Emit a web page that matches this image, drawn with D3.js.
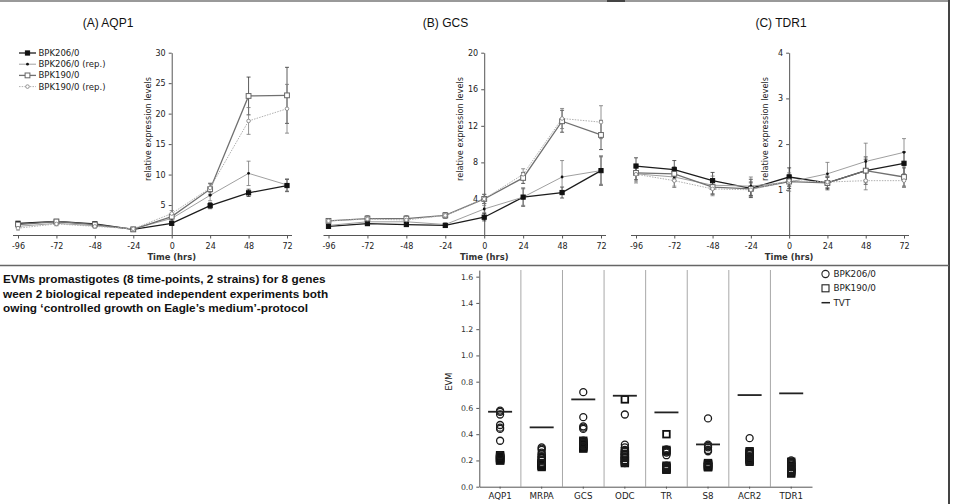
<!DOCTYPE html>
<html>
<head>
<meta charset="utf-8">
<script src="https://cdn.jsdelivr.net/npm/d3@7"></script>
<style>
body { margin: 0; background: #fff; }
svg { display: block; }
</style>
</head>
<body>
<svg width="953" height="504"></svg>
<script>
// time points in hours
const timePoints = [-96, -72, -48, -24, 0, 24, 48, 72];
const seriesNames = ["BPK206/0", "BPK206/0 (rep.)", "BPK190/0", "BPK190/0 (rep.)"];

// (A) AQP1 - relative expression levels
const aqp1_206    = [2.0, 2.3, 1.9, 1.0, 2.0, 4.9, 7.0, 8.2];
const aqp1_206rep = [1.5, 2.0, 1.6, 1.1, 2.8, 6.6, 10.2, 8.3];
const aqp1_190    = [1.8, 2.3, 1.8, 1.0, 3.1, 7.6, 22.9, 23.0];
const aqp1_190rep = [1.2, 1.9, 1.5, 1.1, 3.6, 7.8, 18.8, 20.8];
const aqp1_206_err    = [0.3, 0.3, 0.3, 0.2, 0.3, 0.5, 0.6, 1.0];
const aqp1_206rep_err = [0.3, 0.3, 0.3, 0.2, 0.4, 0.9, 2.0, 1.0];
const aqp1_190_err    = [0.3, 0.3, 0.3, 0.2, 0.4, 0.9, 3.1, 4.6];
const aqp1_190rep_err = [0.3, 0.3, 0.3, 0.2, 0.5, 0.8, 2.2, 4.0];

// (B) GCS
const gcs_206    = [1.0, 1.3, 1.2, 1.1, 2.0, 4.2, 4.7, 7.1];
const gcs_206rep = [1.1, 1.5, 1.5, 1.2, 2.9, 4.2, 6.4, 7.1];
const gcs_190    = [1.6, 1.85, 1.85, 2.2, 4.0, 6.3, 12.5, 11.0];
const gcs_190rep = [1.6, 1.8, 1.7, 2.2, 4.0, 6.7, 12.8, 12.4];
const gcs_206_err    = [0.15, 0.2, 0.2, 0.15, 0.4, 1.0, 0.6, 1.6];
const gcs_206rep_err = [0.2, 0.2, 0.2, 0.2, 0.4, 0.9, 1.8, 1.5];
const gcs_190_err    = [0.2, 0.3, 0.3, 0.3, 0.5, 0.6, 1.2, 1.6];
const gcs_190rep_err = [0.2, 0.3, 0.3, 0.3, 0.5, 0.6, 1.1, 1.8];

// (C) TDR1
const tdr1_206    = [1.52, 1.44, 1.20, 1.03, 1.28, 1.15, 1.42, 1.58];
const tdr1_206rep = [1.35, 1.28, 1.10, 1.08, 1.17, 1.35, 1.62, 1.82];
const tdr1_190    = [1.37, 1.35, 1.06, 1.02, 1.18, 1.15, 1.42, 1.28];
const tdr1_190rep = [1.34, 1.20, 1.02, 1.00, 1.20, 1.17, 1.20, 1.20];
const tdr1_206_err    = [0.18, 0.2, 0.18, 0.2, 0.2, 0.15, 0.3, 0.25];
const tdr1_206rep_err = [0.2, 0.2, 0.2, 0.2, 0.2, 0.25, 0.4, 0.3];
const tdr1_190_err    = [0.15, 0.15, 0.15, 0.15, 0.15, 0.12, 0.25, 0.2];
const tdr1_190rep_err = [0.15, 0.15, 0.15, 0.15, 0.12, 0.12, 0.2, 0.15];

const aqp1Ticks = [5, 10, 15, 20, 25, 30];
const gcsTicks = [4, 8, 12, 16, 20];
const tdr1Ticks = [1, 2, 3, 4];

// EVM panel
const genes = ["AQP1", "MRPA", "GCS", "ODC", "TR", "S8", "ACR2", "TDR1"];
const evm206 = [
  [0.58, 0.57, 0.55, 0.47, 0.45, 0.44, 0.35, 0.24],
  [0.30, 0.29, 0.28, 0.26, 0.25, 0.23, 0.20, 0.18],
  [0.72, 0.53, 0.46, 0.45, 0.44, 0.35, 0.33, 0.31],
  [0.55, 0.32, 0.30, 0.28, 0.25, 0.22, 0.19, 0.18],
  [0.285, 0.27, 0.26, 0.24, 0.16, 0.15, 0.14, 0.13],
  [0.52, 0.32, 0.31, 0.30, 0.28, 0.27, 0.18, 0.16],
  [0.37, 0.27, 0.25, 0.23, 0.21, 0.20, 0.19, 0.19],
  [0.20, 0.19, 0.18, 0.17, 0.15, 0.13, 0.12, 0.11]
];
const evm190 = [
  [0.24, 0.23, 0.22, 0.22, 0.21, 0.21, 0.20, 0.20],
  [0.22, 0.20, 0.18, 0.17, 0.17, 0.16, 0.16, 0.15],
  [0.35, 0.34, 0.33, 0.32, 0.31, 0.30, 0.30, 0.29],
  [0.665, 0.27, 0.25, 0.24, 0.22, 0.20, 0.19, 0.18],
  [0.40, 0.28, 0.27, 0.16, 0.15, 0.14, 0.13, 0.13],
  [0.18, 0.17, 0.17, 0.16, 0.16, 0.15, 0.15, 0.15],
  [0.27, 0.26, 0.25, 0.23, 0.22, 0.21, 0.20, 0.19],
  [0.19, 0.18, 0.16, 0.15, 0.13, 0.12, 0.11, 0.10]
];
const tvt = [0.571, 0.452, 0.665, 0.693, 0.566, 0.322, 0.698, 0.711];
const evmTicks = [0, 0.2, 0.4, 0.6, 0.8, 1.0, 1.2, 1.4, 1.6];

const captionLines = [
  "EVMs promastigotes (8 time-points, 2 strains) for 8 genes",
  "ween 2 biological repeated independent experiments both",
  "owing \u2018controlled growth on Eagle\u2019s medium\u2019-protocol"
];

const svg = d3.select("svg");
const tickFont = "'DejaVu Sans', Verdana, sans-serif";
const plainNum = function(d) { return String(d); };

// frame lines
svg.append("line").attr("x1", 0).attr("x2", 950).attr("y1", 1).attr("y2", 1)
  .attr("stroke", "#999").attr("stroke-width", 2);
svg.append("line").attr("x1", 607).attr("x2", 625).attr("y1", 1).attr("y2", 1)
  .attr("stroke", "#444").attr("stroke-width", 2);
svg.append("line").attr("x1", 949).attr("x2", 949).attr("y1", 0).attr("y2", 504)
  .attr("stroke", "#444").attr("stroke-width", 2);
svg.append("line").attr("x1", 0).attr("x2", 949).attr("y1", 265.5).attr("y2", 265.5)
  .attr("stroke", "#666").attr("stroke-width", 1.5);

// series styles
const styles = [
  { line: "#1c1c1c", w: 1.3, dash: null, marker: "square", fill: "#111", stroke: "#111", size: 4.2 },
  { line: "#a0a0a0", w: 1, dash: null, marker: "dot", fill: "#111", stroke: "#111", size: 2.2 },
  { line: "#707070", w: 1.3, dash: null, marker: "square", fill: "#fff", stroke: "#666", size: 4.8 },
  { line: "#b0b0b0", w: 1, dash: "1.5,1.2", marker: "circle", fill: "#fff", stroke: "#888", size: 3.6 }
];

const panels = [
  { title: "(A) AQP1", titleX: 108, x0: 18, x1: 287, yMax: 30, ticks: aqp1Ticks,
    series: [aqp1_206, aqp1_206rep, aqp1_190, aqp1_190rep],
    errs: [aqp1_206_err, aqp1_206rep_err, aqp1_190_err, aqp1_190rep_err], legend: true },
  { title: "(B) GCS", titleX: 445.5, x0: 328.5, x1: 601, yMax: 20, ticks: gcsTicks,
    series: [gcs_206, gcs_206rep, gcs_190, gcs_190rep],
    errs: [gcs_206_err, gcs_206rep_err, gcs_190_err, gcs_190rep_err] },
  { title: "(C) TDR1", titleX: 781, x0: 636, x1: 904, yMax: 4, ticks: tdr1Ticks,
    series: [tdr1_206, tdr1_206rep, tdr1_190, tdr1_190rep],
    errs: [tdr1_206_err, tdr1_206rep_err, tdr1_190_err, tdr1_190rep_err] }
];

function drawMarker(g, st, cx, cy) {
  if (st.marker === "square") {
    g.append("rect").attr("x", cx - st.size / 2).attr("y", cy - st.size / 2)
      .attr("width", st.size).attr("height", st.size)
      .attr("fill", st.fill).attr("stroke", st.stroke).attr("stroke-width", 1);
  } else if (st.marker === "dot") {
    g.append("circle").attr("cx", cx).attr("cy", cy).attr("r", st.size / 2 + 0.3)
      .attr("fill", st.fill);
  } else {
    g.append("circle").attr("cx", cx).attr("cy", cy).attr("r", st.size / 2)
      .attr("fill", st.fill).attr("stroke", st.stroke).attr("stroke-width", 0.9);
  }
}

panels.forEach(function(p) {
  const g = svg.append("g");
  const x = d3.scaleLinear().domain([-96, 72]).range([p.x0, p.x1]);
  const y = d3.scaleLinear().domain([0, p.yMax]).range([235.5, 52.7]);

  // title
  g.append("text").attr("x", p.titleX).attr("y", 27)
    .attr("text-anchor", "middle")
    .attr("font-family", "'Liberation Sans', Arial, sans-serif")
    .attr("font-size", 12).attr("fill", "#111").text(p.title);

  // x axis
  const xa = g.append("g").attr("transform", "translate(0,235.5)")
    .call(d3.axisBottom(x).tickValues(timePoints).tickSize(3).tickSizeOuter(0).tickFormat(plainNum));
  xa.select(".domain").remove();
  xa.append("line").attr("x1", p.x0 - 5).attr("x2", p.x1 + 5).attr("stroke", "#555");
  xa.selectAll(".tick line").attr("stroke", "#555");
  xa.selectAll(".tick text").attr("dy", "0.9em")
    .attr("font-family", tickFont).attr("font-size", 8).attr("fill", "#222");

  // y axis at time 0
  const ya = g.append("g").attr("transform", "translate(" + x(0) + ",0)")
    .call(d3.axisLeft(y).tickValues(p.ticks).tickSize(3).tickSizeOuter(0).tickFormat(plainNum));
  ya.select(".domain").attr("stroke", "#555");
  ya.selectAll(".tick line").attr("stroke", "#555");
  ya.selectAll(".tick text").attr("font-family", tickFont).attr("font-size", 8).attr("fill", "#222");

  g.append("text").attr("transform", "translate(" + (x(0) - 21) + ",129) rotate(-90)")
    .attr("text-anchor", "middle").attr("font-family", tickFont)
    .attr("font-size", 8.2).attr("fill", "#222").text("relative expression levels");

  g.append("text").attr("x", x(0)).attr("y", 259.5).attr("text-anchor", "middle")
    .attr("font-family", tickFont).attr("font-weight", "bold")
    .attr("font-size", 8.4).attr("fill", "#333").text("Time (hrs)");

  const line = d3.line().x(function(d, i) { return x(timePoints[i]); }).y(function(d) { return y(d); });

  p.series.forEach(function(s, k) {
    const st = styles[k];
    g.append("path").datum(s).attr("fill", "none")
      .attr("stroke", st.line).attr("stroke-width", st.w)
      .attr("stroke-dasharray", st.dash).attr("d", line);
  });
  p.series.forEach(function(s, k) {
    s.forEach(function(v, i) {
      const e = p.errs[k][i];
      const cx = x(timePoints[i]);
      const col = k % 2 ? "#777" : "#333";
      g.append("line").attr("x1", cx).attr("x2", cx).attr("y1", y(v - e)).attr("y2", y(v + e))
        .attr("stroke", col).attr("stroke-width", 0.8);
      [v - e, v + e].forEach(function(b) {
        g.append("line").attr("x1", cx - 2).attr("x2", cx + 2).attr("y1", y(b)).attr("y2", y(b))
          .attr("stroke", col).attr("stroke-width", 0.8);
      });
    });
  });
  p.series.forEach(function(s, k) {
    s.forEach(function(v, i) { drawMarker(g, styles[k], x(timePoints[i]), y(v)); });
  });

  if (p.legend) {
    const lg = g.append("g");
    seriesNames.forEach(function(name, k) {
      const st = styles[k];
      const ly = 53 + k * 11.2;
      lg.append("line").attr("x1", 19).attr("x2", 36).attr("y1", ly).attr("y2", ly)
        .attr("stroke", st.line).attr("stroke-width", st.w).attr("stroke-dasharray", st.dash);
      drawMarker(lg, st, 27.5, ly);
      lg.append("text").attr("x", 38.5).attr("y", ly).attr("dy", "0.35em")
        .attr("font-family", tickFont).attr("font-size", 8.5).attr("fill", "#222").text(name);
    });
  }
});

// caption text on the left
svg.append("g").selectAll("text").data(captionLines).join("text")
  .attr("x", 3).attr("y", function(d, i) { return 283 + i * 14.5; })
  .attr("font-family", "'Liberation Sans', Arial, sans-serif")
  .attr("font-weight", "bold").attr("font-size", 11.8).attr("fill", "#111")
  .text(function(d) { return d; });

// EVM chart
const ex = d3.scaleBand().domain(genes).range([479.3, 812]).padding(0);
const ey = d3.scaleLinear().domain([0, 1.65]).range([486.7, 270.1]);
const eg = svg.append("g");

genes.slice(1).forEach(function(gn) {
  eg.append("line").attr("x1", ex(gn)).attr("x2", ex(gn)).attr("y1", 270).attr("y2", ey(0))
    .attr("stroke", "#a8a8a8").attr("stroke-width", 1);
});

const exa = eg.append("g").attr("transform", "translate(0," + ey(0) + ")")
  .call(d3.axisBottom(ex).tickSize(2).tickSizeOuter(0));
exa.select(".domain").attr("stroke", "#555");
exa.selectAll(".tick line").attr("stroke", "#555");
exa.selectAll(".tick text").attr("dy", "0.8em").attr("font-family", tickFont)
  .attr("font-size", 8.7).attr("fill", "#222");

const eya = eg.append("g").attr("transform", "translate(479.3,0)")
  .call(d3.axisLeft(ey).tickValues(evmTicks).tickSize(3).tickSizeOuter(0).tickFormat(d3.format(".1f")));
eya.select(".domain").attr("stroke", "#555");
eya.selectAll(".tick line").attr("stroke", "#555");
eya.selectAll(".tick text").attr("font-family", tickFont).attr("font-size", 7.8).attr("fill", "#333");

eg.append("text").attr("transform", "translate(452," + ey(0.8) + ") rotate(-90)")
  .attr("text-anchor", "middle").attr("font-family", tickFont)
  .attr("font-size", 8.2).attr("fill", "#222").text("EVM");

genes.forEach(function(gn, i) {
  const cx = ex(gn) + ex.bandwidth() / 2;
  evm190[i].forEach(function(v) {
    eg.append("rect").attr("x", cx - 3.3).attr("y", ey(v) - 3.3).attr("width", 6.6).attr("height", 6.6)
      .attr("fill", "none").attr("stroke", "#111").attr("stroke-width", 1.8);
  });
  evm206[i].forEach(function(v) {
    eg.append("circle").attr("cx", cx).attr("cy", ey(v)).attr("r", 3.5)
      .attr("fill", "none").attr("stroke", "#1a1a1a").attr("stroke-width", 1.3);
  });
  eg.append("line").attr("x1", cx - 12).attr("x2", cx + 12).attr("y1", ey(tvt[i])).attr("y2", ey(tvt[i]))
    .attr("stroke", "#222").attr("stroke-width", 1.8);
});

// EVM legend
const el = eg.append("g");
el.append("circle").attr("cx", 825.5).attr("cy", 274).attr("r", 3.6)
  .attr("fill", "none").attr("stroke", "#222").attr("stroke-width", 1.1);
el.append("rect").attr("x", 822).attr("y", 284.8).attr("width", 7).attr("height", 7)
  .attr("fill", "none").attr("stroke", "#222").attr("stroke-width", 1.1);
el.append("line").attr("x1", 821.5).attr("x2", 830).attr("y1", 302.7).attr("y2", 302.7)
  .attr("stroke", "#222").attr("stroke-width", 1.5);
["BPK206/0", "BPK190/0", "TVT"].forEach(function(t, i) {
  el.append("text").attr("x", 833.5).attr("y", 274 + i * 14.3).attr("dy", "0.35em")
    .attr("font-family", tickFont).attr("font-size", 8.8).attr("fill", "#222").text(t);
});
</script>
</body>
</html>
